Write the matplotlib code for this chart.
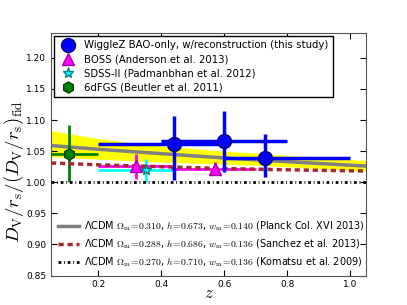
import matplotlib
matplotlib.use('Agg')
import matplotlib.pyplot as plt
import numpy as np

plt.rcParams['mathtext.fontset'] = 'cm'
plt.rcParams['font.family'] = ['DejaVu Sans']
plt.rcParams['xtick.direction'] = 'in'
plt.rcParams['ytick.direction'] = 'in'
plt.rcParams['xtick.top'] = True
plt.rcParams['ytick.right'] = True

# WiggleZ reconstructed BAO
wz_z = [0.44, 0.60, 0.73]
wz_y = [1.061, 1.066, 1.039]
wz_ylo = [0.057, 0.049, 0.031]
wz_yhi = [0.045, 0.049, 0.039]
wz_zlo = [0.24, 0.20, 0.13]
wz_zhi = [0.16, 0.20, 0.27]

# BOSS
boss_z = [0.32, 0.57]
boss_y = [1.026, 1.022]
boss_err = [0.020, 0.010]
boss_zlo = [0.12, 0.14]
boss_zhi = [0.11, 0.13]

# SDSS-II
sdss_z = [0.35]
sdss_y = [1.019]
sdss_err = [0.019]
sdss_zlo = [0.15]
sdss_zhi = [0.09]

# 6dFGS
six_z = [0.106]
six_y = [1.046]
six_err = [0.046]
six_zlo = [0.106]
six_zhi = [0.094]

# model curves
model_z = [0.05, 0.2, 0.4, 0.6, 0.8, 1.05]
planck_y = [1.059, 1.053, 1.046, 1.039, 1.033, 1.026]
sanchez_y = [1.031, 1.028, 1.025, 1.022, 1.020, 1.018]
komatsu_y = [1.0, 1.0, 1.0, 1.0, 1.0, 1.0]

band_z = [0.05, 0.2, 0.37, 0.55, 0.72, 0.9, 1.05]
band_hi = [1.083, 1.070, 1.060, 1.052, 1.046, 1.040, 1.035]
band_lo = [1.041, 1.037, 1.033, 1.030, 1.027, 1.022, 1.018]

planck_lab = r'ΛCDM $\Omega_{\rm m}\!=\!0.310$, $h\!=\!0.673$, $w_{\rm m}\!=\!0.140$ (Planck Col. XVI 2013)'
sanchez_lab = r'ΛCDM $\Omega_{\rm m}\!=\!0.288$, $h\!=\!0.686$, $w_{\rm m}\!=\!0.136$ (Sanchez et al. 2013)'
komatsu_lab = r'ΛCDM $\Omega_{\rm m}\!=\!0.270$, $h\!=\!0.710$, $w_{\rm m}\!=\!0.136$ (Komatsu et al. 2009)'

fig = plt.figure(figsize=(4.07, 3.05), dpi=100)
ax = fig.add_axes([0.1253, 0.0967, 0.774, 0.7951])

ax.fill_between(band_z, band_lo, band_hi, color='yellow', lw=0, zorder=1)
l1, = ax.plot(model_z, planck_y, color='grey', lw=2.5, label=planck_lab, zorder=2)
l2, = ax.plot(model_z, sanchez_y, color='#a52a2a', lw=2.5, dashes=(1.5, 1.1), label=sanchez_lab, zorder=4)
l3, = ax.plot(model_z, komatsu_y, color='k', lw=2, dashes=(1, 1, 0.3, 1), label=komatsu_lab, zorder=4)

ax.errorbar(sdss_z, sdss_y, yerr=sdss_err, xerr=[sdss_zlo, sdss_zhi], fmt='none', ecolor='cyan', elinewidth=2, capsize=0, zorder=3)
ax.errorbar(boss_z, boss_y, yerr=boss_err, xerr=[boss_zlo, boss_zhi], fmt='none', ecolor='magenta', elinewidth=2, capsize=0, zorder=3)
ax.errorbar(six_z, six_y, yerr=six_err, xerr=[six_zlo, six_zhi], fmt='none', ecolor='green', elinewidth=2, capsize=0, zorder=3)
ax.errorbar(wz_z, wz_y, yerr=[wz_ylo, wz_yhi], xerr=[wz_zlo, wz_zhi], fmt='none', ecolor='blue', elinewidth=2.5, capsize=0, zorder=5)

p1, = ax.plot(wz_z, wz_y, 'o', color='blue', mec='#000080', ms=10, ls='none', zorder=6,
              label='WiggleZ BAO-only, w/reconstruction (this study)')
p2, = ax.plot(boss_z, boss_y, '^', color='magenta', mec='#a000a0', ms=8, ls='none', zorder=6,
              label='BOSS (Anderson et al. 2013)')
p3, = ax.plot(sdss_z, sdss_y, '*', color='cyan', mec='#008080', ms=8, ls='none', zorder=6,
              label='SDSS-II (Padmanbhan et al. 2012)')
p4, = ax.plot(six_z, six_y, 'h', color='green', mec='#004000', ms=8, ls='none', zorder=6,
              label='6dFGS (Beutler et al. 2011)')

ax.set_xlim(0.05, 1.05)
ax.set_ylim(0.85, 1.24)
ax.set_xticks([0.2, 0.4, 0.6, 0.8, 1.0])
ax.set_yticks([0.85, 0.90, 0.95, 1.00, 1.05, 1.10, 1.15, 1.20])
ax.tick_params(labelsize=6.5, length=4, width=0.8)
for s in ax.spines.values():
    s.set_color('#555555')

ax.set_xlabel(r'$z$', fontsize=12, labelpad=-4)
ax.set_ylabel(r'$D_{\rm V}/r_{\rm s}/(D_{\rm V}/r_{\rm s})_{\rm fid}$', fontsize=13.5)
ax.yaxis.set_label_coords(-0.078, 0.43)

leg1 = ax.legend(handles=[p1, p2, p3, p4], loc='upper left', fontsize=7.3, numpoints=1,
                 fancybox=False, edgecolor='k', framealpha=1, handletextpad=0.6,
                 labelspacing=0.4, borderpad=0.45, borderaxespad=0.25)
ax.add_artist(leg1)
ax.legend(handles=[l1, l2, l3], loc='lower left', fontsize=7, fancybox=False,
          frameon=False, handlelength=2.2, handletextpad=0.5, labelspacing=0.45,
          borderaxespad=0.3)

fig.savefig('out.png', dpi=100)
